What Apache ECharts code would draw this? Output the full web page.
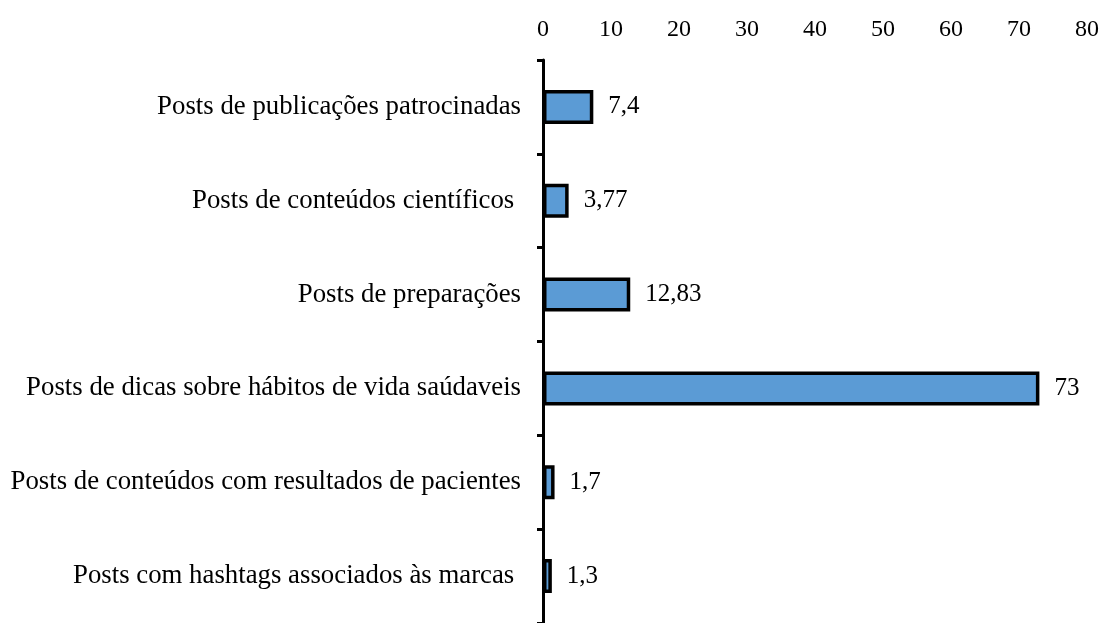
<!DOCTYPE html>
<html><head><meta charset="utf-8">
<script src="https://cdn.jsdelivr.net/npm/echarts@6/dist/echarts.min.js"></script>
<style>html,body{margin:0;padding:0;background:#fff}#c{width:1102px;height:623px}</style>
</head><body><div id="c"></div>
<script>
const categories = [
  "Posts de publicações patrocinadas",
  "Posts de conteúdos científicos ",
  "Posts de preparações",
  "Posts de dicas sobre hábitos de vida saúdaveis",
  "Posts de conteúdos com resultados de pacientes",
  "Posts com hashtags associados às marcas "
];
const values = [7.4, 3.77, 12.83, 73, 1.7, 1.3];
const xTicks = [0, 10, 20, 30, 40, 50, 60, 70, 80];

const chart = echarts.init(document.getElementById('c'));
const font = '"Liberation Serif", "Times New Roman", serif';
chart.setOption({
  animation: false,
  grid: { left: 543, right: 14, top: 60, height: 565, containLabel: false },
  xAxis: {
    type: 'value', position: 'top', min: 0, max: 80, interval: 10,
    axisLine: { show: false }, axisTick: { show: false }, splitLine: { show: false },
    axisLabel: { margin: 18, color: '#000', fontSize: 24, fontFamily: font,
      formatter: v => xTicks.includes(v) ? String(v) : '' }
  },
  yAxis: {
    type: 'category', data: categories, inverse: true,
    axisLine: { show: true, lineStyle: { color: '#000', width: 3 } },
    axisTick: { show: true, length: 6, lineStyle: { color: '#000', width: 3 } },
    axisLabel: { margin: 22, color: '#000', fontSize: 26.8, fontFamily: font }
  },
  series: [{
    type: 'bar', data: values, barWidth: 34,
    itemStyle: { color: '#5B9BD5', borderColor: '#000', borderWidth: 3.5 },
    label: { show: true, position: 'right', distance: 15, color: '#000', fontSize: 25, fontFamily: font,
      formatter: p => String(p.value).replace('.', ',') }
  }]
});
</script></body></html>
